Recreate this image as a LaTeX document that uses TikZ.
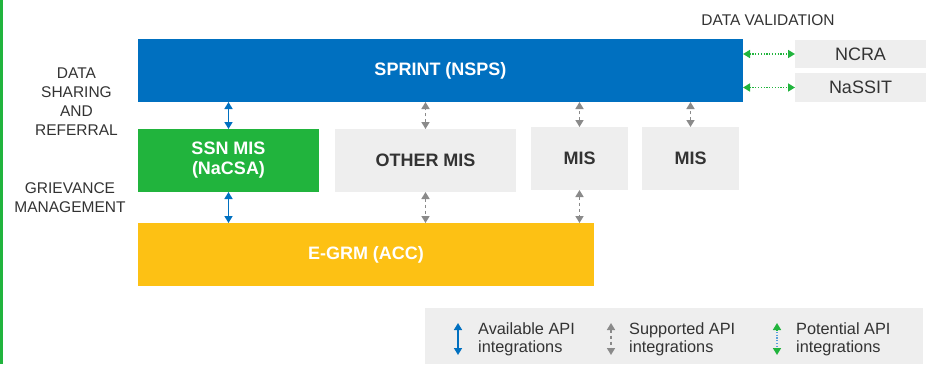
\documentclass[tikz,border=0pt]{standalone}
\usepackage{fontspec}
\setmainfont{Liberation Sans}
\usetikzlibrary{arrows.meta,calc}
\definecolor{sblue}{RGB}{0,112,192}
\definecolor{sgreen}{RGB}{33,180,61}
\definecolor{syellow}{RGB}{253,193,20}
\definecolor{sgray}{RGB}{238,238,238}
\definecolor{agray}{RGB}{138,138,138}
\definecolor{txt}{RGB}{51,51,51}
\definecolor{lblue}{RGB}{90,160,220}
\tikzset{
  box/.style={rectangle, inner sep=0pt, outer sep=0pt, align=center, font=\fontsize{18}{20}\selectfont\bfseries},
  bluebox/.style={box, fill=sblue, text=white},
  greenbox/.style={box, fill=sgreen, text=white},
  yellowbox/.style={box, fill=syellow, text=white},
  graybox/.style={box, fill=sgray, text=txt},
  extbox/.style={rectangle, inner sep=0pt, outer sep=0pt, fill=sgray, text=txt, font=\fontsize{18}{20}\selectfont},
  lbl/.style={align=center, text=txt, inner sep=0pt, font=\fontsize{15.5}{19}\selectfont},
  legtxt/.style={align=left, anchor=west, text=txt, inner sep=0pt, font=\fontsize{16.3}{18}\selectfont},
  tips/.style={{Triangle[width=8pt,length=7pt]}-{Triangle[width=8pt,length=7pt]}},
  avail/.style={tips, draw=sblue, line width=1.6pt},
  supp/.style={tips, draw=agray, line width=1.6pt, dash pattern=on 3.5pt off 2.5pt},
  pot/.style={tips, draw=sgreen, line width=1.6pt, dash pattern=on 1.2pt off 1.6pt},
  head/.style={-{Triangle[width=8pt,length=7pt]}, draw=sgreen, line width=1.6pt},
}
\begin{document}
\begin{tikzpicture}[x=1pt,y=-1pt]
\useasboundingbox (0,0) rectangle (926,364);
\fill[sgreen] (0,0) rectangle (3,364);
% main boxes
\node[bluebox, minimum width=605pt, minimum height=63pt] (sprint) at (440.5,70.5) {SPRINT (NSPS)};
\node[greenbox, minimum width=181pt, minimum height=63pt] (ssn) at (228.5,160.5) {SSN MIS\\(NaCSA)};
\node[graybox, minimum width=181pt, minimum height=63pt] (other) at (425.5,160.5) {OTHER MIS};
\node[graybox, minimum width=97pt, minimum height=63pt] (mis1) at (579.5,158.5) {MIS};
\node[graybox, minimum width=97pt, minimum height=63pt] (mis2) at (690.5,158.5) {MIS};
\node[yellowbox, minimum width=456pt, minimum height=63pt] (egrm) at (366,254.5) {E-GRM (ACC)};
\node[extbox, minimum width=131pt, minimum height=28pt] (ncra) at (860.5,54) {NCRA};
\node[extbox, minimum width=131pt, minimum height=29pt] (nassit) at (860.5,87.5) {NaSSIT};
% labels
\node[lbl] (dv) at (768,20.5) {DATA VALIDATION};
\node[lbl] (dsr) at (76.5,101.5) {DATA\\SHARING\\AND\\REFERRAL};
\node[lbl] (grm) at (70,197.5) {GRIEVANCE\\MANAGEMENT};
% connectors
\draw[avail] (ssn.north) -- (ssn.north |- sprint.south);
\draw[avail] (ssn.south) -- (ssn.south |- egrm.north);
\draw[supp] (other.north) -- (other.north |- sprint.south);
\draw[supp] (other.south) -- (other.south |- egrm.north);
\draw[supp] (mis1.north) -- (mis1.north |- sprint.south);
\draw[supp] (mis1.south) -- (mis1.south |- egrm.north);
\draw[supp] (mis2.north) -- (mis2.north |- sprint.south);
\draw[pot] (ncra.west -| sprint.east) -- (ncra.west);
\draw[pot] (nassit.west -| sprint.east) -- (nassit.west);
% legend
\node[rectangle, fill=sgray, inner sep=0pt, minimum width=498pt, minimum height=56pt] (legend) at (674,336) {};
\coordinate (la1) at (458,323); \coordinate (la2) at (458,355);
\coordinate (lb1) at (611,323); \coordinate (lb2) at (611,355);
\coordinate (lc1) at (777,323); \coordinate (lc2) at (777,355);
\draw[avail] (la1) -- (la2);
\draw[supp] (lb1) -- (lb2);
\draw[line width=1.6pt, draw=lblue, dash pattern=on 1.2pt off 1.6pt, shorten <=6pt, shorten >=6pt] (lc1) -- (lc2);
\draw[head] ($(lc1)+(0,7)$) -- (lc1);
\draw[head] ($(lc2)+(0,-7)$) -- (lc2);
\node[legtxt] (t1) at (478,339) {Available API\\integrations};
\node[legtxt] (t2) at (629,339) {Supported API\\integrations};
\node[legtxt] (t3) at (796,339) {Potential API\\integrations};
\end{tikzpicture}
\end{document}
